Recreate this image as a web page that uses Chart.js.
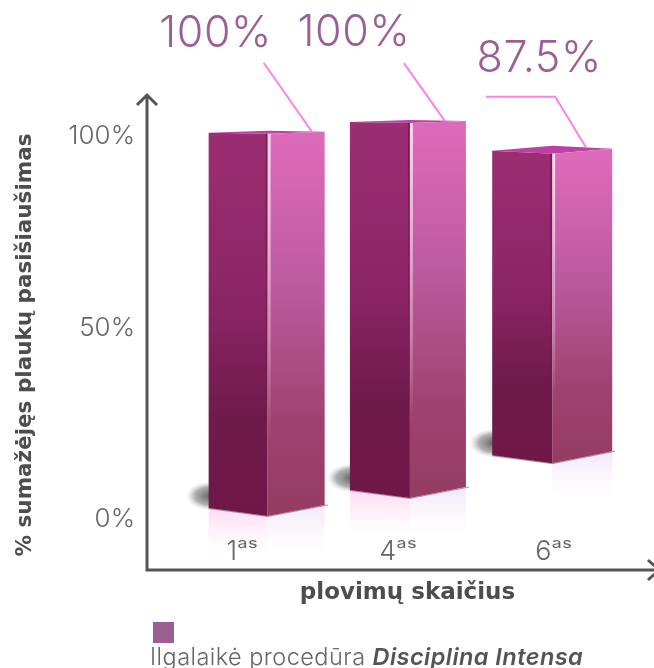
<!DOCTYPE html>
<html>
<head>
<meta charset="utf-8">
<script src="https://cdn.jsdelivr.net/npm/chart.js@4"></script>
<style>
  html, body { margin: 0; padding: 0; width: 654px; height: 668px; overflow: hidden; background: #fff; }
  #grafikas { position: absolute; left: 0; top: 0; }
  #legenda-kv { position: absolute; left: 153px; top: 622px; width: 21px; height: 21px; background: #9b5f94; }
  #legenda { position: absolute; left: 150px; top: 642px; font: 300 23.5px Inter, sans-serif; letter-spacing: .45px; color: #666; white-space: nowrap; }
  #legenda b { font-style: italic; font-weight: 600; color: #555; }
</style>
</head>
<body>
<canvas id="grafikas" width="668" height="668"></canvas>
<div id="legenda-kv"></div>
<div id="legenda"></div>
<script>
// duomenys
const washLabels = ['1ᵃˢ', '4ᵃˢ', '6ᵃˢ'];
const valueLabels = ['100%', '100%', '87.5%'];
const barBottoms = [0.8, 5.5, 14.6];
const barTops = [100.7, 103.5, 95.5];
const yTicks = [0, 50, 100];
const yTitle = '% sumažėjęs plaukų pasišiaušimas';
const xTitle = 'plovimų skaičius';
const legendPlain = 'Ilgalaikė procedūra ';
const legendBold = 'Disciplina Intensa';

const FONT = 'Inter, sans-serif';
const BOLD_FONT = '"DejaVu Sans", sans-serif';
const GREY = '#666';
const AXIS = '#555';
const PINK = '#ff80e8';

// 3D box shape of each bar, px relative to the front edge
const boxes = [
  { l: 59, r: 57, tl: -1, tr: -2, back: -3, bl: -8, br: -11, glow: '#ffd9f3' },
  { l: 60, r: 56, tl: -1, tr: -2, back: -3, bl: -8, br: -11, glow: '#ffd9f3' },
  { l: 60, r: 60, tl: -3, tr: -5, back: -8, bl: -8, br: -12, glow: null }
];
// label and leader line, px relative to the top of the front edge
const callouts = [
  { lx: -52, ly: -100, line: [[-4, -71], [45, -1]] },
  { lx: -56, ly: -90, line: [[-6, -60], [35, -2]] },
  { lx: -13, ly: -95, line: [[-66, -57], [3, -57], [34, -6]] }
];

function poly(ctx, pts) {
  ctx.beginPath();
  pts.forEach((p, i) => i ? ctx.lineTo(p[0], p[1]) : ctx.moveTo(p[0], p[1]));
  ctx.closePath();
}

function vGrad(ctx, y0, y1, stops) {
  const g = ctx.createLinearGradient(0, y0, 0, y1);
  stops.forEach(s => g.addColorStop(s[0], s[1]));
  return g;
}

const box3d = {
  id: 'box3d',
  beforeDatasetsDraw(chart) {
    const ctx = chart.ctx;
    chart.getDatasetMeta(0).data.forEach((bar, i) => {
      const b = boxes[i], x = bar.x, top = bar.y, bot = bar.base;
      const L = x - b.l, R = x + b.r;
      ctx.save();

      // shadow on the floor, left of the bar
      ctx.save();
      ctx.translate(L + 2, bot + b.bl - 12);
      ctx.scale(1, 0.58);
      const sh = ctx.createRadialGradient(0, 0, 2, 0, 0, 25);
      sh.addColorStop(0, 'rgba(70,70,70,.8)');
      sh.addColorStop(0.6, 'rgba(110,110,110,.55)');
      sh.addColorStop(1, 'rgba(190,190,190,0)');
      ctx.fillStyle = sh;
      ctx.beginPath();
      ctx.arc(0, 0, 25, 0, Math.PI * 2);
      ctx.fill();
      ctx.restore();

      // reflection under the bar
      if (b.glow) {
        ctx.fillStyle = vGrad(ctx, bot + b.bl, bot + 39, [[0, b.glow], [1, 'rgba(255,240,250,0)']]);
        poly(ctx, [[L, bot + b.bl], [x, bot], [x, bot + 39], [L, bot + 39]]);
        ctx.fill();
      }
      ctx.fillStyle = vGrad(ctx, bot + b.br, bot + 36, [[0, '#f3e6f8'], [1, 'rgba(250,245,252,0)']]);
      poly(ctx, [[x, bot], [R, bot + b.br], [R, bot + 36], [x, bot + 36]]);
      ctx.fill();

      // thin floor shadow along the bottom edge
      ctx.strokeStyle = 'rgba(90,90,90,.55)';
      ctx.lineWidth = 1.2;
      ctx.beginPath();
      ctx.moveTo(L, bot + b.bl + 0.5);
      ctx.lineTo(x, bot + 0.5);
      ctx.lineTo(R + 3, bot + b.br);
      ctx.stroke();

      // top
      ctx.fillStyle = '#bf3fa8';
      poly(ctx, [[L, top + b.tl], [x, top + b.back], [R, top + b.tr], [x, top]]);
      ctx.fill();

      // left face
      ctx.fillStyle = vGrad(ctx, top, bot, [[0, '#9b2e72'], [0.45, '#8b2465'], [0.75, '#6e1a4b'], [1, '#701748']]);
      poly(ctx, [[L, top + b.tl], [x, top], [x, bot], [L, bot + b.bl]]);
      ctx.fill();

      // right face
      ctx.fillStyle = vGrad(ctx, top, bot, [[0, '#de6bba'], [0.4, '#bd5a9e'], [0.75, '#9f4272'], [1, '#963c60']]);
      poly(ctx, [[x, top], [R, top + b.tr], [R, bot + b.br], [x, bot]]);
      ctx.fill();

      // highlight on the front edge
      ctx.fillStyle = vGrad(ctx, top, bot, [[0, 'rgba(255,235,250,.85)'], [0.55, 'rgba(255,225,245,.35)'], [0.8, 'rgba(255,225,245,0)']]);
      ctx.fillRect(x, top, 3, bot - top);
      ctx.fillStyle = vGrad(ctx, top, bot, [[0, 'rgba(70,10,50,.45)'], [0.6, 'rgba(70,10,50,.15)'], [0.8, 'rgba(70,10,50,0)']]);
      ctx.fillRect(x - 2, top, 2, bot - top);

      ctx.restore();
    });
  },
  afterDatasetsDraw(chart) {
    const ctx = chart.ctx, area = chart.chartArea;
    ctx.save();

    // axes with arrows
    ctx.strokeStyle = AXIS;
    ctx.lineWidth = 3;
    ctx.beginPath();
    ctx.moveTo(area.left, 95);
    ctx.lineTo(area.left, area.bottom);
    ctx.lineTo(area.right, area.bottom);
    ctx.moveTo(area.left - 10, 105);
    ctx.lineTo(area.left, 95);
    ctx.lineTo(area.left + 10, 105);
    ctx.moveTo(648, area.bottom - 10);
    ctx.lineTo(659, area.bottom);
    ctx.lineTo(648, area.bottom + 10);
    ctx.stroke();

    // leader lines and value labels
    chart.getDatasetMeta(0).data.forEach((bar, i) => {
      const c = callouts[i];
      ctx.strokeStyle = PINK;
      ctx.lineWidth = 2;
      ctx.beginPath();
      c.line.forEach((p, j) => {
        if (j) ctx.lineTo(bar.x + p[0], bar.y + p[1]);
        else ctx.moveTo(bar.x + p[0], bar.y + p[1]);
      });
      ctx.stroke();

      ctx.fillStyle = '#9b5f94';
      ctx.font = '300 43px ' + FONT;
      ctx.letterSpacing = '0.6px';
      ctx.textAlign = 'center';
      ctx.textBaseline = 'middle';
      ctx.fillText(valueLabels[i], bar.x + c.lx, bar.y + c.ly);
    });
    ctx.restore();
  }
};

document.getElementById('legenda').innerHTML = legendPlain + '<b>' + legendBold + '</b>';

new Chart(document.getElementById('grafikas').getContext('2d'), {
  type: 'bar',
  data: {
    datasets: [{
      label: legendPlain + legendBold,
      data: barTops.map((t, i) => ({ x: i + 1, y: [barBottoms[i], t] })),
      backgroundColor: 'rgba(0,0,0,0)',
      barThickness: 116,
      xAxisID: 'xBars',
      yAxisID: 'y'
    }]
  },
  plugins: [box3d],
  options: {
    responsive: false,
    animation: false,
    events: [],
    layout: { padding: { top: 120, left: 0, right: 0, bottom: 0 } },
    plugins: { legend: { display: false }, tooltip: { enabled: false } },
    scales: {
      xBars: {
        type: 'linear',
        display: false,
        offset: false,
        min: 0.152,
        max: 3.814
      },
      x: {
        type: 'linear',
        offset: false,
        min: 0.389,
        max: 3.733,
        grid: { display: false, drawTicks: false },
        border: { display: false },
        afterBuildTicks: axis => { axis.ticks = washLabels.map((l, i) => ({ value: i + 1 })); },
        afterFit: axis => { axis.height = 98; },
        ticks: {
          z: 1,
          mirror: true,
          padding: 2,
          autoSkip: false,
          maxRotation: 0,
          color: GREY,
          font: { family: FONT, size: 27, weight: '300' },
          callback: v => washLabels[v - 1]
        },
        title: {
          display: true,
          text: xTitle,
          color: '#4d4d4d',
          font: { family: BOLD_FONT, size: 23, weight: '700' },
          padding: { top: 0, bottom: 61 }
        }
      },
      y: {
        type: 'linear',
        min: -13.33,
        max: 104.3,
        grid: { display: false, drawTicks: false },
        border: { display: false },
        afterBuildTicks: axis => { axis.ticks = yTicks.map(v => ({ value: v })); },
        afterFit: axis => { axis.width = 147; },
        ticks: {
          padding: 12,
          color: GREY,
          font: { family: FONT, size: 26, weight: '300' },
          callback: v => v + '%'
        },
        title: {
          display: true,
          text: yTitle,
          color: '#4d4d4d',
          font: { family: BOLD_FONT, size: 21.5, weight: '700' },
          padding: { top: 13, bottom: 0 }
        }
      }
    }
  }
});
</script>
</body>
</html>
